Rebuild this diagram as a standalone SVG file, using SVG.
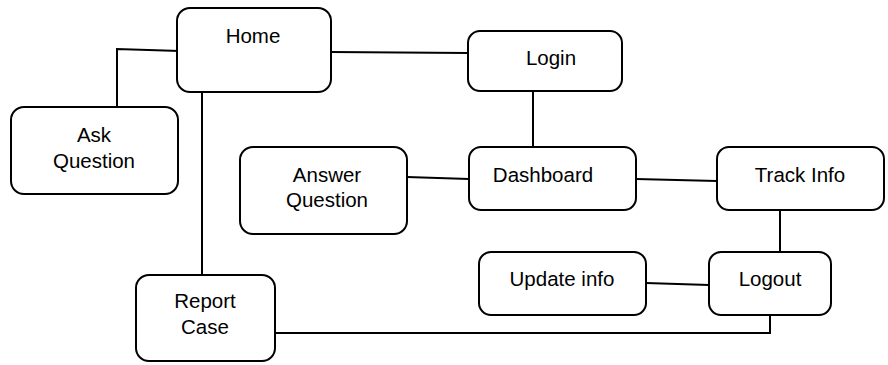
<svg xmlns="http://www.w3.org/2000/svg" width="888" height="365" viewBox="0 0 888 365">
<style>
.n rect{fill:#fff;stroke:#000;stroke-width:2}
.n text{font-family:"Liberation Sans",Arial,sans-serif;font-size:20.5px;text-anchor:middle;fill:#000}
.c path{fill:none;stroke:#000;stroke-width:2}
</style>
<rect width="888" height="365" fill="#fff"/>
<g class="c" id="connectors">
<path d="M180,51 L117,49 L117,107"/>
<path d="M331,52 L468,53"/>
<path d="M533,91 L533,147"/>
<path d="M407,177 L469,179"/>
<path d="M636,179 L717,181"/>
<path d="M202,92 L202,275"/>
<path d="M780,210 L780,252"/>
<path d="M646,283 L709,285"/>
<path d="M275,333 L770,333 L770,315"/>
</g>
<g class="n" id="home"><rect x="177" y="8" width="154" height="84" rx="13"/><text x="253" y="43">Home</text></g>
<g class="n" id="ask"><rect x="11" y="107" width="167" height="87" rx="13"/><text x="94" y="142">Ask</text><text x="94" y="168">Question</text></g>
<g class="n" id="login"><rect x="468" y="31" width="154" height="60" rx="12"/><text x="551" y="65">Login</text></g>
<g class="n" id="answer"><rect x="240" y="147" width="167" height="87" rx="13"/><text x="327" y="182">Answer</text><text x="327" y="207">Question</text></g>
<g class="n" id="dashboard"><rect x="469" y="147" width="167" height="63" rx="12"/><text x="543" y="182">Dashboard</text></g>
<g class="n" id="track"><rect x="717" y="147" width="167" height="63" rx="12"/><text x="800" y="182">Track Info</text></g>
<g class="n" id="update"><rect x="479" y="252" width="167" height="63" rx="12"/><text x="562" y="286">Update info</text></g>
<g class="n" id="logout"><rect x="709" y="252" width="122" height="63" rx="12"/><text x="770" y="286">Logout</text></g>
<g class="n" id="report"><rect x="136" y="275" width="139" height="86" rx="13"/><text x="205" y="308">Report</text><text x="205" y="334">Case</text></g>
</svg>
